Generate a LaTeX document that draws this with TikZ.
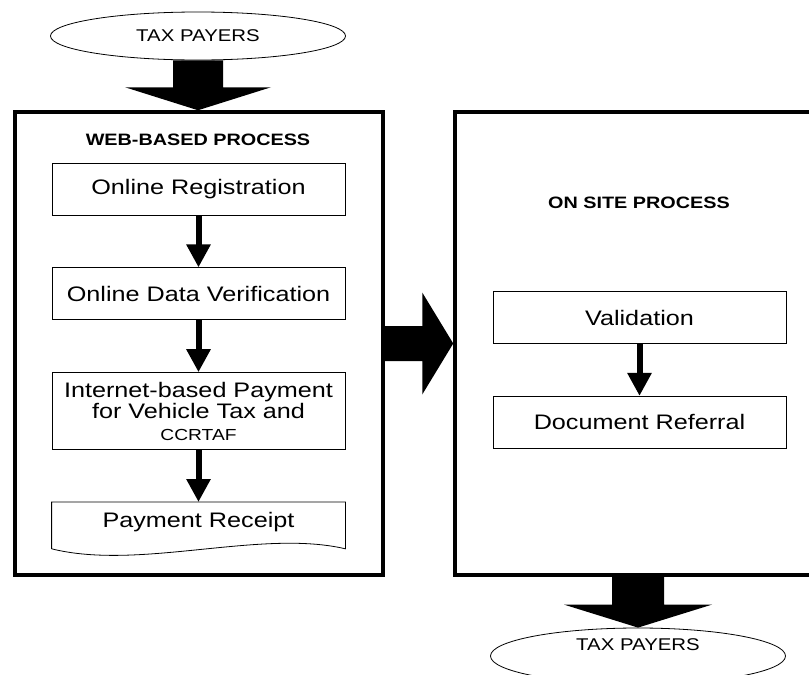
\documentclass[tikz,border=0pt]{standalone}
\usepackage{fontspec}
\setmainfont{Liberation Sans}[FakeStretch=1.2]
\usepackage{tikz}
\usetikzlibrary{shapes.geometric, arrows.meta, positioning, calc}

\begin{document}
\begin{tikzpicture}[
  x=1pt, y=-1pt,
  node distance=52pt,
  stepbox/.style={rectangle, draw, line width=0.8pt, minimum width=293pt, minimum height=52pt, inner sep=2pt, align=center, font=\fontsize{21}{21.5}\selectfont},
  payer/.style={ellipse, draw, line width=0.8pt, minimum width=295pt, minimum height=48pt, font=\fontsize{17}{19}\selectfont},
  processbox/.style={rectangle, draw, line width=3.5pt, minimum width=368pt, minimum height=463pt},
  headline/.style={font=\bfseries\fontsize{16.5}{18}\selectfont},
  arrow/.style={line width=6pt, -{Triangle[width=23pt, length=23pt]}}
]
  \useasboundingbox (0,0) rectangle (809,675);
  \node[payer] (payerin) at (198,36) {TAX PAYERS};
  \node[processbox] (web) at (199,343.5) {};
  \node[processbox] (site) at (639,343.5) {};
  \node[headline] (webtitle) at (198,140) {WEB-BASED PROCESS};
  \node[headline] (sitetitle) at (639,203) {ON SITE PROCESS};
  % web-based steps
  \node[stepbox] (reg) at (198.5,189) {Online Registration};
  \node[stepbox, below=of reg] (verify) {Online Data Verification};
  \node[stepbox, below=of verify, minimum height=77pt] (pay) {Internet-based Payment\\for Vehicle Tax and\\{\fontsize{16}{18}\selectfont CCRTAF}};
  \node[stepbox, below=of pay, minimum height=46pt, text depth=11pt, draw=none] (receipt) {Payment Receipt};
  \draw[line width=0.8pt] (receipt.south west) -- (receipt.north west) -- (receipt.north east) -- (receipt.south east)
    .. controls ($(receipt.south east)+(-85,-20)$) and ($(receipt.south west)+(88,22)$) .. (receipt.south west);
  % on site steps
  \node[stepbox] (valid) at (639.5,317.5) {Validation};
  \node[stepbox, below=of valid] (referral) {Document Referral};
  \node[payer, minimum height=56pt, inner ysep=0pt, text depth=22pt] (payerout) at (638,656) {TAX PAYERS};
  \draw[arrow] (reg) -- (verify);
  \draw[arrow] (verify) -- (pay);
  \draw[arrow] (pay) -- (receipt);
  \draw[arrow] (valid) -- (referral);
  % block arrows
  \fill ($(payerin.south)+(-25,0)$) |- ($(payerin.south |- web.north)+(-73,-23)$) -- (payerin.south |- web.north)
    -- ++(73,-23) -| ($(payerin.south)+(25,0)$) -- cycle;
  \fill ($(web.east)+(0,-17.5)$) -| ($(web.east -| site.west)+(-31,-51)$) -- (web.east -| site.west)
    -- ++(-31,51) |- ($(web.east)+(0,17.5)$) -- cycle;
  \fill ($(payerout.north |- site.south)+(-26,0)$) |- ($(payerout.north)+(-74,-23)$) -- (payerout.north)
    -- ++(74,-23) -| ($(payerout.north |- site.south)+(26,0)$) -- cycle;
\end{tikzpicture}
\end{document}
